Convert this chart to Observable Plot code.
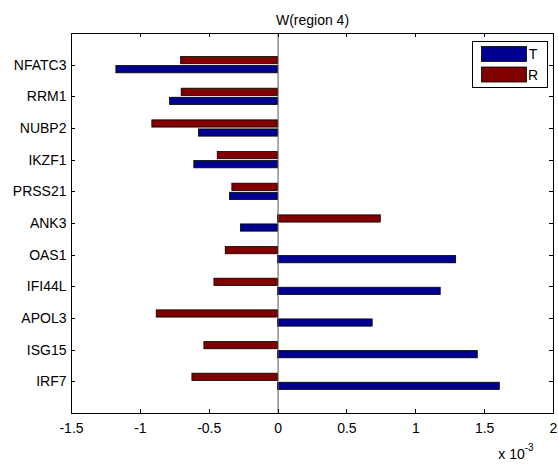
<!DOCTYPE html>
<html>
<head>
<meta charset="utf-8">
<script src="https://cdn.jsdelivr.net/npm/d3@7"></script>
<script src="https://cdn.jsdelivr.net/npm/@observablehq/plot@0.6"></script>
<style>
  html, body { margin: 0; padding: 0; background: #fff; }
  #chart svg { display: block; }
</style>
</head>
<body>
<div id="chart"></div>
<script>
// Genes, bottom (y = 1) to top (y = 11)
const genes = ["IRF7", "ISG15", "APOL3", "IFI44L", "OAS1", "ANK3", "PRSS21", "IKZF1", "NUBP2", "RRM1", "NFATC3"];
// Values in units of 1e-3 (axis shows "x 10^-3")
const valuesT = [1.61, 1.45, 0.687, 1.181, 1.293, -0.269, -0.349, -0.608, -0.574, -0.784, -1.174];
const valuesR = [-0.622, -0.535, -0.881, -0.462, -0.380, 0.746, -0.332, -0.438, -0.913, -0.700, -0.704];
const seriesNames = ["T", "R"];
const seriesColors = ["#00008F", "#800000"];
const xTicks = [-1.5, -1, -0.5, 0, 0.5, 1, 1.5, 2];
const titleText = "W(region 4)";

const font = "Liberation Sans, Arial, Helvetica, sans-serif";
const fs = 14;
const W = 558, H = 465;
const mL = 71, mR = 5, mT = 33, mB = 52;

// MATLAB grouped barh geometry: 2 series, offsets ±0.143, bar height 0.229
const off = 0.143, half = 0.114;
const rows = [];
genes.forEach((g, i) => {
  rows.push({gene: g, series: "T", pos: i + 1 - off, value: valuesT[i]});
  rows.push({gene: g, series: "R", pos: i + 1 + off, value: valuesR[i]});
});

const plot = Plot.plot({
  width: W,
  height: H,
  marginLeft: mL, marginRight: mR, marginTop: mT, marginBottom: mB,
  style: {fontFamily: font, fontSize: fs + "px", background: "#fff", color: "#000"},
  x: {domain: [-1.5, 2]},
  y: {domain: [0, genes.length + 1]},
  color: {domain: seriesNames, range: seriesColors},
  marks: [
    Plot.rect(rows, {
      x1: 0, x2: "value",
      y1: d => d.pos - half, y2: d => d.pos + half,
      fill: "series", stroke: "#000", strokeWidth: 0.8
    }),
    Plot.ruleX([0], {stroke: "#555", strokeWidth: 1}),
    Plot.frame({stroke: "#000", strokeWidth: 1}),
    Plot.axisX(xTicks, {tickSize: 0, tickPadding: 10, label: null, fontSize: fs,
      tickFormat: d => String(d)}),
    Plot.axisY(d3.range(1, genes.length + 1), {tickSize: 0, tickPadding: 5, label: null, fontSize: fs,
      tickFormat: d => genes[d - 1]}),
    Plot.text([titleText], {frameAnchor: "top", dy: -9, lineAnchor: "bottom", fontSize: fs, text: d => d})
  ]
});

document.getElementById("chart").appendChild(plot);

// Inward MATLAB-style ticks on all four sides, positioned by Plot's scales
const svg = d3.select(plot);
const xs = plot.scale("x"), ys = plot.scale("y");
const yTopPx = ys.apply(genes.length + 1), yBotPx = ys.apply(0);
const xLeftPx = xs.apply(-1.5), xRightPx = xs.apply(2);
const tk = svg.append("g").attr("stroke", "#000").attr("stroke-width", 1);
xTicks.forEach(v => {
  const px = Math.round(xs.apply(v)) + 0.5;
  tk.append("line").attr("x1", px).attr("x2", px).attr("y1", yBotPx).attr("y2", yBotPx - 4);
  tk.append("line").attr("x1", px).attr("x2", px).attr("y1", yTopPx).attr("y2", yTopPx + 4);
});
genes.forEach((g, i) => {
  const py = Math.round(ys.apply(i + 1)) + 0.5;
  tk.append("line").attr("x1", xLeftPx).attr("x2", xLeftPx + 4).attr("y1", py).attr("y2", py);
  tk.append("line").attr("x1", xRightPx).attr("x2", xRightPx - 4).attr("y1", py).attr("y2", py);
});

// Legend inside the axes, top-right
const lg = svg.append("g").attr("font-family", font).attr("font-size", fs);
const lx = xRightPx - 81, ly = yTopPx + 8;
lg.append("rect").attr("x", lx + 0.5).attr("y", ly + 0.5).attr("width", 75).attr("height", 46)
  .attr("fill", "#fff").attr("stroke", "#000");
seriesNames.forEach((s, i) => {
  const sy = ly + 5 + i * 20.5;
  lg.append("rect").attr("x", lx + 9.5).attr("y", sy + 0.5).attr("width", 45).attr("height", 15)
    .attr("fill", seriesColors[i]).attr("stroke", "#000").attr("stroke-width", 0.8);
  lg.append("text").attr("x", lx + 61).attr("y", sy + 13).text(s);
});

// Exponent label "x 10^-3" below the right end of the x axis
const ex = svg.append("text").attr("font-family", font).attr("font-size", fs)
  .attr("x", xRightPx - 37).attr("y", yBotPx + 46);
ex.append("tspan").text("x 10");
ex.append("tspan").attr("font-size", 10).attr("dy", -8).text("-3");
</script>
</body>
</html>
